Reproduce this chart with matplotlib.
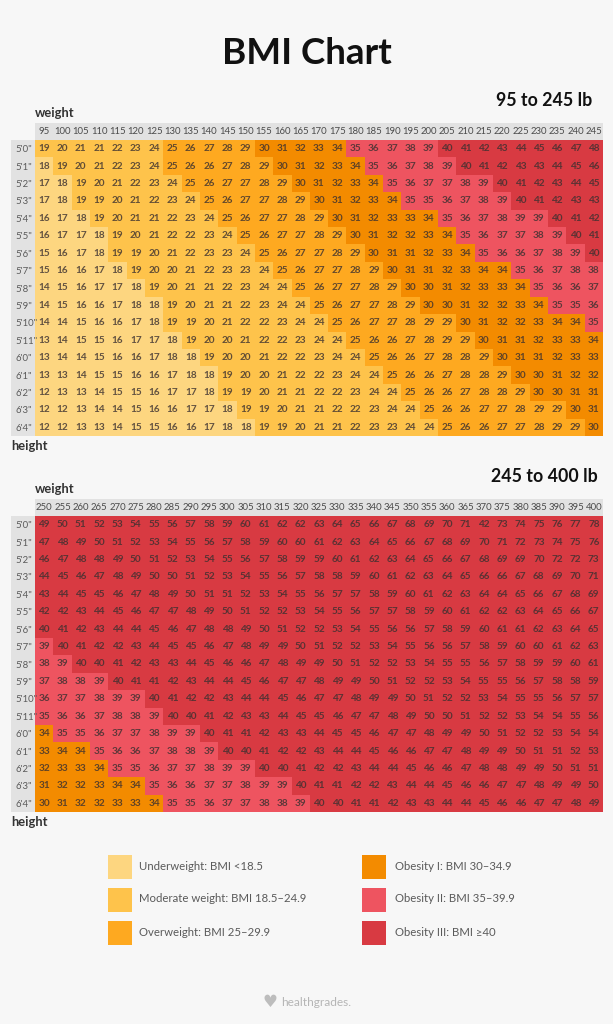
import matplotlib
matplotlib.use("Agg")
import matplotlib.pyplot as plt
from matplotlib.colors import ListedColormap, BoundaryNorm
from matplotlib.patches import Rectangle

plt.rcParams['font.family'] = ['Lato', 'DejaVu Sans']

heights = ["5'0\"", "5'1\"", "5'2\"", "5'3\"", "5'4\"", "5'5\"", "5'6\"", "5'7\"", "5'8\"",
           "5'9\"", "5'10\"", "5'11\"", "6'0\"", "6'1\"", "6'2\"", "6'3\"", "6'4\""]

weights_low = [95, 100, 105, 110, 115, 120, 125, 130, 135, 140, 145, 150, 155, 160, 165, 170,
               175, 180, 185, 190, 195, 200, 205, 210, 215, 220, 225, 230, 235, 240, 245]
weights_high = [250, 255, 260, 265, 270, 275, 280, 285, 290, 295, 300, 305, 310, 315, 320, 325,
                330, 335, 340, 345, 350, 355, 360, 365, 370, 375, 380, 385, 390, 395, 400]

bmi_low = [
    [19, 20, 21, 21, 22, 23, 24, 25, 26, 27, 28, 29, 30, 31, 32, 33, 34, 35, 36, 37, 38, 39, 40, 41, 42, 43, 44, 45, 46, 47, 48],
    [18, 19, 20, 21, 22, 23, 24, 25, 26, 26, 27, 28, 29, 30, 31, 32, 33, 34, 35, 36, 37, 38, 39, 40, 41, 42, 43, 43, 44, 45, 46],
    [17, 18, 19, 20, 21, 22, 23, 24, 25, 26, 27, 27, 28, 29, 30, 31, 32, 33, 34, 35, 36, 37, 37, 38, 39, 40, 41, 42, 43, 44, 45],
    [17, 18, 19, 19, 20, 21, 22, 23, 24, 25, 26, 27, 27, 28, 29, 30, 31, 32, 33, 34, 35, 35, 36, 37, 38, 39, 40, 41, 42, 43, 43],
    [16, 17, 18, 19, 20, 21, 21, 22, 23, 24, 25, 26, 27, 27, 28, 29, 30, 31, 32, 33, 33, 34, 35, 36, 37, 38, 39, 39, 40, 41, 42],
    [16, 17, 17, 18, 19, 20, 21, 22, 22, 23, 24, 25, 26, 27, 27, 28, 29, 30, 31, 32, 32, 33, 34, 35, 36, 37, 37, 38, 39, 40, 41],
    [15, 16, 17, 18, 19, 19, 20, 21, 22, 23, 23, 24, 25, 26, 27, 27, 28, 29, 30, 31, 31, 32, 33, 34, 35, 36, 36, 37, 38, 39, 40],
    [15, 16, 16, 17, 18, 19, 20, 20, 21, 22, 23, 23, 24, 25, 26, 27, 27, 28, 29, 30, 31, 31, 32, 33, 34, 34, 35, 36, 37, 38, 38],
    [14, 15, 16, 17, 17, 18, 19, 20, 21, 21, 22, 23, 24, 24, 25, 26, 27, 27, 28, 29, 30, 30, 31, 32, 33, 33, 34, 35, 36, 36, 37],
    [14, 15, 16, 16, 17, 18, 18, 19, 20, 21, 21, 22, 23, 24, 24, 25, 26, 27, 27, 28, 29, 30, 30, 31, 32, 32, 33, 34, 35, 35, 36],
    [14, 14, 15, 16, 16, 17, 18, 19, 19, 20, 21, 22, 22, 23, 24, 24, 25, 26, 27, 27, 28, 29, 29, 30, 31, 32, 32, 33, 34, 34, 35],
    [13, 14, 15, 15, 16, 17, 17, 18, 19, 20, 20, 21, 22, 22, 23, 24, 24, 25, 26, 26, 27, 28, 29, 29, 30, 31, 31, 32, 33, 33, 34],
    [13, 14, 14, 15, 16, 16, 17, 18, 18, 19, 20, 20, 21, 22, 22, 23, 24, 24, 25, 26, 26, 27, 28, 28, 29, 30, 31, 31, 32, 33, 33],
    [13, 13, 14, 15, 15, 16, 16, 17, 18, 18, 19, 20, 20, 21, 22, 22, 23, 24, 24, 25, 26, 26, 27, 28, 28, 29, 30, 30, 31, 32, 32],
    [12, 13, 13, 14, 15, 15, 16, 17, 17, 18, 19, 19, 20, 21, 21, 22, 22, 23, 24, 24, 25, 26, 26, 27, 28, 28, 29, 30, 30, 31, 31],
    [12, 12, 13, 14, 14, 15, 16, 16, 17, 17, 18, 19, 19, 20, 21, 21, 22, 22, 23, 24, 24, 25, 26, 26, 27, 27, 28, 29, 29, 30, 31],
    [12, 12, 13, 13, 14, 15, 15, 16, 16, 17, 18, 18, 19, 19, 20, 21, 21, 22, 23, 23, 24, 24, 25, 26, 26, 27, 27, 28, 29, 29, 30],
]

bmi_high = [
    [49, 50, 51, 52, 53, 54, 55, 56, 57, 58, 59, 60, 61, 62, 62, 63, 64, 65, 66, 67, 68, 69, 70, 71, 42, 73, 74, 75, 76, 77, 78],
    [47, 48, 49, 50, 51, 52, 53, 54, 55, 56, 57, 58, 59, 60, 60, 61, 62, 63, 64, 65, 66, 67, 68, 69, 70, 71, 72, 73, 74, 75, 76],
    [46, 47, 48, 48, 49, 50, 51, 52, 53, 54, 55, 56, 57, 58, 59, 59, 60, 61, 62, 63, 64, 65, 66, 67, 68, 69, 69, 70, 72, 72, 73],
    [44, 45, 46, 47, 48, 49, 50, 50, 51, 52, 53, 54, 55, 56, 57, 58, 58, 59, 60, 61, 62, 63, 64, 65, 66, 66, 67, 68, 69, 70, 71],
    [43, 44, 45, 45, 46, 47, 48, 49, 50, 51, 51, 52, 53, 54, 55, 56, 57, 57, 58, 59, 60, 61, 62, 63, 64, 64, 65, 66, 67, 68, 69],
    [42, 42, 43, 44, 45, 46, 47, 47, 48, 49, 50, 51, 52, 52, 53, 54, 55, 56, 57, 57, 58, 59, 60, 61, 62, 62, 63, 64, 65, 66, 67],
    [40, 41, 42, 43, 44, 44, 45, 46, 47, 48, 48, 49, 50, 51, 52, 52, 53, 54, 55, 56, 56, 57, 58, 59, 60, 61, 61, 62, 63, 64, 65],
    [39, 40, 41, 42, 42, 43, 44, 45, 45, 46, 47, 48, 49, 49, 50, 51, 52, 52, 53, 54, 55, 56, 56, 57, 58, 59, 60, 60, 61, 62, 63],
    [38, 39, 40, 40, 41, 42, 43, 43, 44, 45, 46, 46, 47, 48, 49, 49, 50, 51, 52, 52, 53, 54, 55, 55, 56, 57, 58, 59, 59, 60, 61],
    [37, 38, 38, 39, 40, 41, 41, 42, 43, 44, 44, 45, 46, 47, 47, 48, 49, 49, 50, 51, 52, 52, 53, 54, 55, 55, 56, 57, 58, 58, 59],
    [36, 37, 37, 38, 39, 39, 40, 41, 42, 42, 43, 44, 44, 45, 46, 47, 47, 48, 49, 49, 50, 51, 52, 52, 53, 54, 55, 55, 56, 57, 57],
    [35, 36, 36, 37, 38, 38, 39, 40, 40, 41, 42, 43, 43, 44, 45, 45, 46, 47, 47, 48, 49, 50, 50, 51, 52, 52, 53, 54, 54, 55, 56],
    [34, 35, 35, 36, 37, 37, 38, 39, 39, 40, 41, 41, 42, 43, 43, 44, 45, 45, 46, 47, 47, 48, 49, 49, 50, 51, 52, 52, 53, 54, 54],
    [33, 34, 34, 35, 36, 36, 37, 38, 38, 39, 40, 40, 41, 42, 42, 43, 44, 44, 45, 46, 46, 47, 47, 48, 49, 49, 50, 51, 51, 52, 53],
    [32, 33, 33, 34, 35, 35, 36, 37, 37, 38, 39, 39, 40, 40, 41, 42, 42, 43, 44, 44, 45, 46, 46, 47, 48, 48, 49, 49, 50, 51, 51],
    [31, 32, 32, 33, 34, 34, 35, 36, 36, 37, 37, 38, 39, 39, 40, 41, 41, 42, 42, 43, 44, 44, 45, 46, 46, 47, 47, 48, 49, 49, 50],
    [30, 31, 32, 32, 33, 33, 34, 35, 35, 36, 37, 37, 38, 38, 39, 40, 40, 41, 41, 42, 43, 43, 44, 44, 45, 46, 46, 47, 47, 48, 49],
]

category_names = ["Underweight: BMI <18.5", "Moderate weight: BMI 18.5–24.9", "Overweight: BMI 25–29.9",
                  "Obesity I: BMI 30–34.9", "Obesity II: BMI 35–39.9", "Obesity III: BMI ≥40"]
category_colors = ["#FDD680", "#FEC34B", "#FEA920", "#F38B00", "#EE5460", "#D83A42"]
category_limits = [0, 19, 25, 30, 35, 40, 100]

W = 613
H = 1024
BG = "#F7F7F7"
BAND = "#E2E2E2"

cmap = ListedColormap(category_colors)
norm = BoundaryNorm(category_limits, cmap.N)


def px_rect(fig, x0, y0, x1, y1, color):
    # pixel box measured from the top left of the image, kept behind the axes
    fig.add_artist(Rectangle((x0 / W, 1 - y1 / H), (x1 - x0) / W, (y1 - y0) / H,
                             transform=fig.transFigure, facecolor=color, edgecolor="none", zorder=-1))


def px_text(fig, x, y, s, **kw):
    fig.text(x / W, 1 - y / H, s, va="center", **kw)


def draw_table(fig, top, bmi, weights, range_label, range_x):
    body_top = top + 17
    body_bottom = body_top + 296
    # grey header strip and height column
    px_rect(fig, 35, top, 603, body_top, BAND)
    px_rect(fig, 11, body_top, 35, body_bottom, BAND)

    ax = fig.add_axes([35 / W, 1 - body_bottom / H, 568 / W, 296 / H])
    ax.patch.set_alpha(0)
    ax.pcolormesh(bmi, cmap=cmap, norm=norm)
    ax.set_xlim(0, len(weights))
    ax.set_ylim(len(heights), 0)

    for r, row in enumerate(bmi):
        for c, val in enumerate(row):
            ax.text(c + 0.5, r + 0.5, str(val), ha="center", va="center", fontsize=7.2,
                    fontweight="bold", color="#3A3030", alpha=0.8)

    ax.xaxis.tick_top()
    ax.set_xticks([i + 0.5 for i in range(len(weights))])
    ax.set_xticklabels(weights)
    ax.set_yticks([i + 0.5 for i in range(len(heights))])
    ax.set_yticklabels(heights, ha="left")
    ax.tick_params(axis="x", length=0, pad=2.8, labelsize=6.9, labelcolor="#4A4A4A")
    ax.tick_params(axis="y", length=0, pad=14.4, labelsize=6.9, labelcolor="#5A5A5A")
    for spine in ax.spines.values():
        spine.set_visible(False)

    px_text(fig, 35, top - 10, "weight", fontsize=9.3, fontweight="bold", color="#333333")
    px_text(fig, 11, body_bottom + 10, "height", fontsize=9.3, fontweight="bold", color="#333333")
    px_text(fig, range_x, top - 23, range_label, fontsize=12.8, fontweight="bold", color="#111111", ha="right")


def main():
    fig = plt.figure(figsize=(W / 100, H / 100), dpi=100, facecolor=BG)

    px_text(fig, 306.5, 53, "BMI Chart", fontsize=26.5, fontweight="bold", color="#111111", ha="center")

    draw_table(fig, 123, bmi_low, weights_low, "95 to 245 lb", 592)
    draw_table(fig, 499, bmi_high, weights_high, "245 to 400 lb", 598)

    # legend, two columns of three
    for i, (name, color) in enumerate(zip(category_names, category_colors)):
        x = 108 if i < 3 else 362
        y = 855 + (i % 3) * 33
        px_rect(fig, x, y, x + 24, y + 24, color)
        px_text(fig, x + (31 if i < 3 else 33), y + 11, name, fontsize=8.2, color="#5A5A5A")

    # footer logo
    px_text(fig, 263, 1002, "♥", fontsize=12, color="#BDBDBD", family="DejaVu Sans")
    px_text(fig, 281, 1003, "healthgrades.", fontsize=8.6, color="#B5B5B5")

    fig.savefig("out.png", dpi=100, facecolor=BG)


if __name__ == '__main__':
    main()
